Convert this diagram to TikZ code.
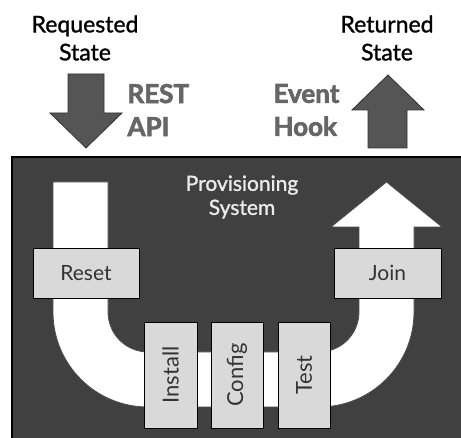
\documentclass[tikz,border=0pt]{standalone}
\usepackage{fontspec}
\setmainfont{Lato}
\newfontfamily\latomed[FakeBold=1.2]{Lato}
\newfontfamily\latoheavy[FakeBold=2.5]{Lato Bold}
\begin{document}
\begin{tikzpicture}[x=1pt,y=-1pt,
  stage/.style={draw=black,line width=0.9pt,fill=boxgray,inner sep=0pt},
  lbl/.style={font=\fontsize{21}{24}\selectfont,text=black!80},
  vlbl/.style={font=\fontsize{22}{24}\selectfont,text=black!80,rotate=90},
  toplbl/.style={align=center,font=\latomed\fontsize{23}{28}\selectfont,text=black},
  bigbold/.style={align=left,font=\latoheavy\fontsize{26}{33}\selectfont,text=boldgray},
  bigarrow/.style={fill=arrowgray,draw=black!80,line width=0.8pt,line join=miter}]
\definecolor{boxgray}{HTML}{D9D9D9}
\definecolor{darkbg}{HTML}{404040}
\definecolor{arrowgray}{HTML}{555555}
\definecolor{boldgray}{HTML}{666666}
\useasboundingbox (0,0) rectangle (461,438);
\clip (0,0) rectangle (461,438);
\fill[white] (0,0) rectangle (461,438);
% system box
\draw[fill=darkbg,draw=black,line width=2pt] (12,157) rectangle (480,460);
% U-shaped flow
\draw[fill=white,draw=black!70,line width=0.8pt,line join=miter]
  (53,182) -- (108,182) -- (108,312)
  .. controls (108,334.1) and (125.9,352) .. (148,352)
  -- (319,352)
  .. controls (341.1,352) and (359,334.1) .. (359,312)
  -- (359,227) -- (331,227) -- (386.5,182) -- (442,227) -- (414,227) -- (414,312)
  .. controls (414,364.5) and (371.5,407) .. (319,407)
  -- (148,407)
  .. controls (95.5,407) and (53,364.5) .. (53,312) -- cycle;
% stage boxes
\node[stage,minimum width=106pt,minimum height=50pt] (reset) at (86,273) {};
\node[lbl] at (reset.center) {Reset};
\node[stage,minimum width=107pt,minimum height=50pt] (join) at (387.5,273) {};
\node[lbl] at (join.center) {Join};
\node[stage,minimum width=53pt,minimum height=106pt] (install) at (170.5,375) {};
\node[vlbl] at (install.center) {Install};
\node[stage,minimum width=52pt,minimum height=106pt] (config) at (237,375) {};
\node[vlbl] at (config.center) {Config};
\node[stage,minimum width=52pt,minimum height=106pt] (test) at (304,375) {};
\node[vlbl] at (test.center) {Test};
% system title
\node[align=center,font=\latomed\fontsize{21}{24}\selectfont,text=white!92!black] (sys) at (242,197) {Provisioning\\System};
% top labels
\node[toplbl] (req) at (85,38) {Requested\\State};
\node[toplbl] (ret) at (387,38) {Returned\\State};
\node[bigbold,anchor=west] (rest) at (124,110) {REST\\API};
\node[bigbold,anchor=west] (hook) at (270,110) {Event\\Hook};
% arrows
\draw[bigarrow] (68,74) -- (104,74) -- (104,113) -- (122,113) -- (86,148) -- (50,113) -- (68,113) -- cycle;
\draw[bigarrow] (368,148) -- (407,148) -- (407,110) -- (424,110) -- (388,75) -- (352,110) -- (368,110) -- cycle;
\end{tikzpicture}
\end{document}
